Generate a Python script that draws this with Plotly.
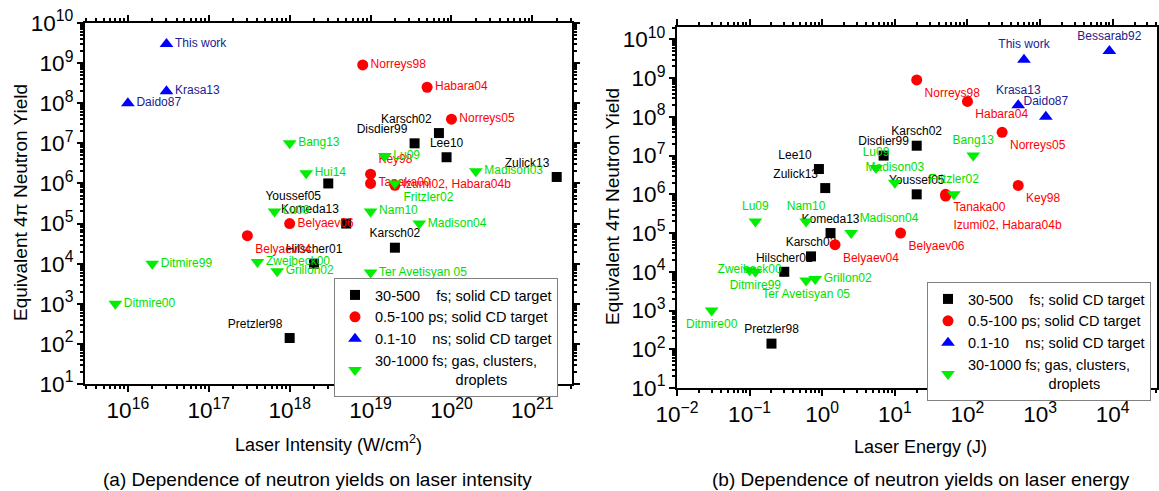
import plotly.graph_objects as go

# ---------------- data ----------------
black_names = ["Karsch02", "Disdier99", "Lee10", "Zulick13", "Youssef05", "Komeda13", "Karsch02", "Hilscher01", "Pretzler98"]
black_intensity = [7e19, 3.5e19, 8.7e19, 2e21, 3e18, 5e18, 2e19, 2e18, 1e18]
black_energy = [20, 7, 0.9, 1.1, 20, 1.3, 0.7, 0.3, 0.2]
black_yield = [1.8e7, 1e7, 4.5e6, 1.45e6, 1e6, 1e5, 2.5e4, 1e4, 1.4e2]

red_names = ["Norreys98", "Habara04", "Norreys05", "Key98", "Tanaka00", "Izumi02, Habara04b", "Belyaev06", "Belyaev04"]
red_intensity = [8e18, 5e19, 1e20, 1e19, 1e19, 2e19, 1e18, 3e17]
red_energy = [20, 100, 300, 500, 50, 50, 12, 1.5]
red_yield = [9e8, 2.5e8, 4e7, 1.7e6, 1e6, 9e5, 1e5, 5e4]

blue_names = ["This work", "Krasa13", "Daido87", "Bessarab92"]
blue_intensity = [3e16, 3e16, 1e16, None]
blue_energy = [600, 500, 1200, 9000]
blue_yield = [3e9, 2e8, 1e8, 5e9]

green_names = ["Bang13", "Lu09", "Hui14", "Madison03", "Fritzler02", "Lu09", "Nam10", "Madison04",
               "Ditmire99", "Ditmire00", "Zweibeck00", "Grillon02", "Ter Avetisyan 05"]
green_intensity = [1e18, 1.5e19, 1.6e18, 2e20, 2e19, 6.5e17, 1e19, 4e19, 2e16, 7e15, 4e17, 7e17, 1e19]
green_energy = [120, 5.5, None, 10, 65, 0.12, 0.6, 2.5, 0.12, 0.03, 0.1, 0.8, 0.6]
green_yield = [1e7, 4.8e6, 1.8e6, 2e6, 1e6, 2e5, 2e5, 1e5, 1e4, 1e3, 1.1e4, 6.5e3, 6e3]

legend_labels = [
    "30-500\u00a0\u00a0\u00a0\u00a0fs; solid CD target",
    "0.5-100 ps; solid CD target",
    "0.1-10\u00a0\u00a0\u00a0\u00a0ns; solid CD target",
    "30-1000 fs; gas, clusters,<br>" + "\u00a0" * 20 + "droplets",
]

# ---------------- styles ----------------
black_pos_a = ["top left", "top left", "top center", "top left", "bottom left", "top left", "top center", "top center", "top left"]
black_pos_b = ["top center", "top center", "top left", "top left", "top center", "top center", "top center", "top center", "top center"]
red_pos_a = ["middle right", "middle right", "middle right", "top right", "middle right", "middle right", "middle right", "bottom right"]
red_pos_b = ["bottom right"] * 8
blue_pos_a = ["middle right"] * 4
blue_pos_b = ["top center"] * 4
green_pos_a = ["middle right", "middle right", "middle right", "middle right", "bottom right", "middle right", "middle right",
               "middle right", "middle right", "middle right", "middle right", "middle right", "middle right"]
green_pos_b = ["top center", "top center", "top center", "top center", "top center", "top center", "top center",
               "top right", "bottom center", "bottom center", "middle center", "middle right", "bottom center"]

groups = [
    dict(names=black_names, xa=black_intensity, xb=black_energy, y=black_yield, pa=black_pos_a, pb=black_pos_b,
         symbol="square", size=10, mcolor="#000000", tcolor="#000000", label=legend_labels[0]),
    dict(names=red_names, xa=red_intensity, xb=red_energy, y=red_yield, pa=red_pos_a, pb=red_pos_b,
         symbol="circle", size=11, mcolor="#ff0000", tcolor="#ff0000", label=legend_labels[1]),
    dict(names=blue_names, xa=blue_intensity, xb=blue_energy, y=blue_yield, pa=blue_pos_a, pb=blue_pos_b,
         symbol="triangle-up", size=12, mcolor="#0000ff", tcolor="#202090", label=legend_labels[2]),
    dict(names=green_names, xa=green_intensity, xb=green_energy, y=green_yield, pa=green_pos_a, pb=green_pos_b,
         symbol="triangle-down", size=12, mcolor="#00ee00", tcolor="#00e000", label=legend_labels[3]),
]

FONT = "Liberation Sans, Arial, sans-serif"
fig = go.Figure()


def add(g, xkey, poskey, xaxis, yaxis, legend):
    xs, ys, ts, ps = [], [], [], []
    for n, x, y, p in zip(g["names"], g[xkey], g["y"], g[poskey]):
        if x is None:
            continue
        if xkey == "xb" and n == "Izumi02, Habara04b":
            n = "\u00a0<br>Izumi02, Habara04b"
        xs.append(x); ys.append(y); ts.append(n); ps.append(p)
    fig.add_trace(go.Scatter(
        x=xs, y=ys, text=ts, textposition=ps, mode="markers+text",
        marker=dict(symbol=g["symbol"], size=g["size"], color=g["mcolor"], line=dict(width=0)),
        textfont=dict(family=FONT, size=12, color=g["tcolor"]),
        name=g["label"], xaxis=xaxis, yaxis=yaxis, legend=legend, cliponaxis=False,
    ))


for g in groups:
    add(g, "xa", "pa", "x", "y", "legend")
for g in groups:
    add(g, "xb", "pb", "x2", "y2", "legend2")

W, H = 1159, 491
alias = {"1": "10<sup>0</sup>", "10": "10<sup>1</sup>"}
axis_common = dict(
    type="log", showgrid=False, zeroline=False, showline=True, linecolor="black", linewidth=2,
    mirror="allticks", ticks="outside", ticklen=6, tickwidth=1.5, tickcolor="black",
    dtick=1, exponentformat="power", showexponent="all", labelalias=alias, automargin=False,
    tickfont=dict(family=FONT, size=18, color="black"),
    minor=dict(ticks="outside", ticklen=3, tickcolor="black", dtick="D1", showgrid=False),
)

fig.update_layout(
    width=W, height=H, margin=dict(l=0, r=0, t=0, b=0, autoexpand=False),
    paper_bgcolor="white", plot_bgcolor="white",
    font=dict(family=FONT, color="black"),
    xaxis=dict(axis_common, domain=[85 / W, 572 / W], range=[15.47, 21.49], anchor="y"),
    yaxis=dict(axis_common, domain=[1 - 384 / H, 1 - 23 / H], range=[1, 10], anchor="x"),
    xaxis2=dict(axis_common, domain=[677 / W, 1157 / W], range=[-2, 4.61], anchor="y2"),
    yaxis2=dict(axis_common, domain=[1 - 388 / H, 1 - 27 / H], range=[1, 10.32], anchor="x2"),
    legend=dict(x=334 / W, y=1 - 278 / H, xanchor="left", yanchor="top", bordercolor="#808080", borderwidth=1,
                bgcolor="white", font=dict(family=FONT, size=14.5, color="black"), tracegroupgap=0, itemwidth=30),
    legend2=dict(x=927 / W, y=1 - 282 / H, xanchor="left", yanchor="top", bordercolor="#808080", borderwidth=1,
                 bgcolor="white", font=dict(family=FONT, size=14.5, color="black"), tracegroupgap=0, itemwidth=30),
    showlegend=True,
)

ann = [
    dict(text="Equivalent 4\u03c0 Neutron Yield", x=20 / W, y=1 - 203 / H, textangle=-90, size=19),
    dict(text="Equivalent 4\u03c0 Neutron Yield", x=613 / W, y=1 - 207 / H, textangle=-90, size=19),
    dict(text="Laser Intensity (W/cm<sup>2</sup>)", x=328 / W, y=1 - 443 / H, textangle=0, size=18),
    dict(text="Laser Energy (J)", x=920 / W, y=1 - 447 / H, textangle=0, size=18),
    dict(text="(a) Dependence of neutron yields on laser intensity", x=317 / W, y=1 - 479 / H, textangle=0, size=19),
    dict(text="(b) Dependence of neutron yields on laser energy", x=921 / W, y=1 - 479 / H, textangle=0, size=19),
]
for a in ann:
    fig.add_annotation(text=a["text"], x=a["x"], y=a["y"], xref="paper", yref="paper", showarrow=False,
                       textangle=a["textangle"], xanchor="center", yanchor="middle",
                       font=dict(family=FONT, size=a["size"], color="black"))

fig.write_html("out.html")
